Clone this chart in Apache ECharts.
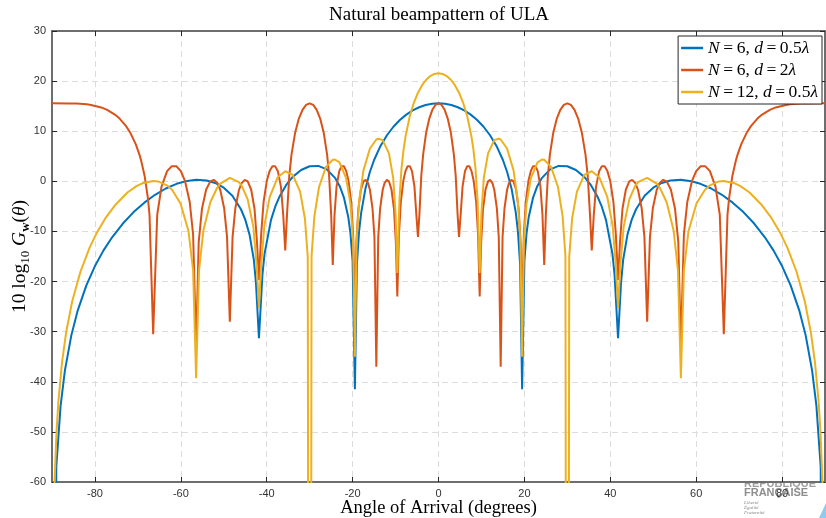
<!DOCTYPE html>
<html>
<head>
<meta charset="utf-8">
<script src="https://cdn.jsdelivr.net/npm/echarts@6/dist/echarts.min.js"></script>
<style>
html,body{margin:0;padding:0;background:#fff;}
#chart{width:826px;height:518px;}
</style>
</head>
<body>
<div id="chart"></div>
<script>
// ---- data (angle in degrees, gain in dB) ----
const titleText = 'Natural beampattern of ULA';
const xLabelText = 'Angle of Arrival (degrees)';
const xTicks = [-80, -60, -40, -20, 0, 20, 40, 60, 80];
const yMin = -60, yMax = 30, yStep = 10;
const seriesLabels = [
  '{i|N}{r|\u2009=\u20096, }{i|d}{r|\u2009=\u20090.5}{i|λ}',
  '{i|N}{r|\u2009=\u20096, }{i|d}{r|\u2009=\u20092}{i|λ}',
  '{i|N}{r|\u2009=\u200912, }{i|d}{r|\u2009=\u20090.5}{i|λ}'
];
const seriesColors = ['#0072BD', '#D95319', '#EDB120'];

const gainN6d05 = [
  [-90,-300],[-89,-57.0],[-88,-44.81],[-87,-37.78],[-85.5,-30.74],[-84,-25.74],[-82,-20.76],[-80,-16.91],
  [-78,-13.78],[-76,-11.17],[-73.5,-8.42],[-71,-6.14],[-68.5,-4.25],[-66,-2.68],[-63.5,-1.43],[-61,-0.50],
  [-58.5,0.09],[-56.44,0.30],[-54,0.17],[-52,-0.33],[-50,-1.28],[-48,-2.88],[-46,-5.57],[-45,-7.64],
  [-44,-10.63],[-43,-15.69],[-42.5,-20.34],[-41.81,-31.3],[-41,-18.68],[-40.5,-14.45],[-39,-7.69],
  [-38,-5.01],[-37,-3.01],[-35.5,-0.76],[-34,0.84],[-32,2.27],[-30,3.01],[-28,3.08],[-26,2.38],[-24,0.58],
  [-23,-0.97],[-22,-3.31],[-21,-7.17],[-20.5,-10.38],[-20,-15.92],[-19.47,-41.5],[-19,-16.52],
  [-18.5,-10.04],[-18,-6.25],[-17,-1.42],[-16,1.82],[-15,4.26],[-13.5,7.06],[-12,9.20],[-10.5,10.89],
  [-9,12.24],[-7.5,13.31],[-6,14.15],[-4.5,14.78],[-3,15.22],[-1.5,15.48],
  [0,15.56],
  [1.5,15.48],[3,15.22],[4.5,14.78],[6,14.15],[7.5,13.31],[9,12.24],[10.5,10.89],[12,9.20],[13.5,7.06],
  [15,4.26],[16,1.82],[17,-1.42],[18,-6.25],[18.5,-10.04],[19,-16.52],[19.47,-41.5],[20,-15.92],
  [20.5,-10.38],[21,-7.17],[22,-3.31],[23,-0.97],[24,0.58],[26,2.38],[28,3.08],[30,3.01],[32,2.27],
  [34,0.84],[35.5,-0.76],[37,-3.01],[38,-5.01],[39,-7.69],[40.5,-14.45],[41,-18.68],[41.81,-31.3],
  [42.5,-20.34],[43,-15.69],[44,-10.63],[45,-7.64],[46,-5.57],[48,-2.88],[50,-1.28],[52,-0.33],[54,0.17],
  [56.44,0.30],[58.5,0.09],[61,-0.50],[63.5,-1.43],[66,-2.68],[68.5,-4.25],[71,-6.14],[73.5,-8.42],
  [76,-11.17],[78,-13.78],[80,-16.91],[82,-20.76],[84,-25.74],[85.5,-30.74],[87,-37.78],[88,-44.81],
  [89,-57.0],[90,-300]
];

const gainN6d2 = [
  [-90,15.56],[-85.95,15.55],[-84.27,15.51],[-81.89,15.36],[-80.93,15.25],[-78.52,14.75],[-77.16,14.27],
  [-75.35,13.33],[-74.26,12.53],[-72.75,11.02],[-71.81,9.76],[-70.48,7.38],[-69.64,5.33],[-69.23,4.11],
  [-68.43,1.07],[-67.67,-3.34],[-67.29,-6.70],[-66.44,-30.5],[-65.50,-6.67],[-64.50,-1.06],[-63.20,2.03],
  [-62.10,3.03],[-61.04,3.01],[-60.00,2.04],[-59.04,0.11],[-57.93,-4.12],[-57.14,-10.62],[-56.44,-33],
  [-55.84,-12.15],[-55.08,-5.48],[-54.10,-1.63],[-53.13,0.00],[-52.34,0.30],[-51.49,-0.35],[-50.81,-1.73],
  [-49.91,-5.38],[-49.24,-11.08],[-48.59,-28],[-47.95,-11.08],[-47.31,-5.38],[-46.47,-1.73],[-45.85,-0.35],
  [-45.10,0.30],[-44.43,0.00],[-43.63,-1.63],[-42.84,-5.48],[-42.26,-12.15],[-41.81,-19.7],[-41.30,-10.62],
  [-40.73,-4.12],[-39.98,0.11],[-39.33,2.04],[-38.68,3.01],[-38.04,3.03],[-37.41,2.03],[-36.69,-1.06],
  [-36.16,-6.67],[-35.69,-13.8],[-35.28,-6.70],[-34.75,1.07],[-34.23,5.33],[-33.37,9.76],[-32.52,12.53],
  [-31.67,14.27],[-30.83,15.25],[-30,15.56],[-29.18,15.25],[-28.36,14.27],[-27.55,12.53],[-26.74,9.76],
  [-25.94,5.33],[-25.47,1.07],[-24.99,-6.70],[-24.62,-16.7],[-24.21,-6.67],[-23.74,-1.06],[-23.11,2.03],
  [-22.57,3.03],[-22.02,3.01],[-21.49,2.04],[-20.95,0.11],[-20.33,-4.12],[-19.88,-10.62],[-19.47,-25],
  [-19.12,-12.15],[-18.66,-5.48],[-18.06,-1.63],[-17.46,0.00],[-16.96,0.30],[-16.41,-0.35],[-15.96,-1.73],
  [-15.37,-5.38],[-14.92,-11.08],[-14.48,-37],[-14.03,-11.08],[-13.59,-5.38],[-13.00,-1.73],[-12.56,-0.35],
  [-12.02,0.30],[-11.54,0.00],[-10.95,-1.63],[-10.37,-5.48],[-9.93,-12.15],[-9.59,-23],[-9.21,-10.62],
  [-8.77,-4.12],[-8.19,0.11],[-7.69,2.04],[-7.18,3.01],[-6.68,3.03],[-6.17,2.03],[-5.60,-1.06],
  [-5.16,-6.67],[-4.78,-11.1],[-4.45,-6.70],[-4.01,1.07],[-3.58,5.33],[-2.87,9.76],[-2.15,12.53],
  [-1.43,14.27],[-0.72,15.25],
  [0,15.56],
  [0.72,15.25],[1.43,14.27],[2.15,12.53],[2.87,9.76],[3.58,5.33],[4.01,1.07],[4.45,-6.70],[4.78,-11.1],
  [5.16,-6.67],[5.60,-1.06],[6.17,2.03],[6.68,3.03],[7.18,3.01],[7.69,2.04],[8.19,0.11],[8.77,-4.12],
  [9.21,-10.62],[9.59,-23],[9.93,-12.15],[10.37,-5.48],[10.95,-1.63],[11.54,0.00],[12.02,0.30],
  [12.56,-0.35],[13.00,-1.73],[13.59,-5.38],[14.03,-11.08],[14.48,-37],[14.92,-11.08],[15.37,-5.38],
  [15.96,-1.73],[16.41,-0.35],[16.96,0.30],[17.46,0.00],[18.06,-1.63],[18.66,-5.48],[19.12,-12.15],
  [19.47,-25],[19.88,-10.62],[20.33,-4.12],[20.95,0.11],[21.49,2.04],[22.02,3.01],[22.57,3.03],
  [23.11,2.03],[23.74,-1.06],[24.21,-6.67],[24.62,-16.7],[24.99,-6.70],[25.47,1.07],[25.94,5.33],
  [26.74,9.76],[27.55,12.53],[28.36,14.27],[29.18,15.25],[30,15.56],[30.83,15.25],[31.67,14.27],
  [32.52,12.53],[33.37,9.76],[34.23,5.33],[34.75,1.07],[35.28,-6.70],[35.69,-13.8],[36.16,-6.67],
  [36.69,-1.06],[37.41,2.03],[38.04,3.03],[38.68,3.01],[39.33,2.04],[39.98,0.11],[40.73,-4.12],
  [41.30,-10.62],[41.81,-19.7],[42.26,-12.15],[42.84,-5.48],[43.63,-1.63],[44.43,0.00],[45.10,0.30],
  [45.85,-0.35],[46.47,-1.73],[47.31,-5.38],[47.95,-11.08],[48.59,-28],[49.24,-11.08],[49.91,-5.38],
  [50.81,-1.73],[51.49,-0.35],[52.34,0.30],[53.13,0.00],[54.10,-1.63],[55.08,-5.48],[55.84,-12.15],
  [56.44,-33],[57.14,-10.62],[57.93,-4.12],[59.04,0.11],[60.00,2.04],[61.04,3.01],[62.10,3.03],
  [63.20,2.03],[64.50,-1.06],[65.50,-6.67],[66.44,-30.5],[67.29,-6.70],[67.67,-3.34],[68.43,1.07],
  [69.23,4.11],[69.64,5.33],[70.48,7.38],[71.81,9.76],[72.75,11.02],[74.26,12.53],[75.35,13.33],
  [77.16,14.27],[78.52,14.75],[80.93,15.25],[81.89,15.36],[84.27,15.51],[85.95,15.55],[90,15.56]
];

const gainN12d05 = [
  [-90,-300],[-89.43,-60.5],[-88.95,-50.06],[-88.52,-44.04],[-87.66,-36.08],[-86.69,-30.06],[-85.32,-24.04],
  [-83.38,-18.04],[-81.24,-13.23],[-79.52,-10.19],[-77.60,-7.41],[-75.16,-4.61],[-72.43,-2.24],
  [-70.33,-0.96],[-68.96,-0.39],[-66.44,0.08],[-65.28,-0.02],[-63.08,-0.87],[-62.05,-1.69],[-60.07,-4.43],
  [-58.21,-9.96],[-57.14,-17.76],[-56.44,-39.3],[-55.76,-17.71],[-54.75,-9.83],[-53.13,-4.18],
  [-51.57,-1.33],[-50.81,-0.45],[-48.59,0.69],[-46.47,-0.16],[-45.78,-0.95],[-44.43,-3.62],[-43.11,-9.08],
  [-42.33,-16.84],[-41.81,-25.3],[-41.30,-16.74],[-40.54,-8.82],[-39.30,-3.09],[-37.47,0.76],[-35.69,2.01],
  [-33.94,1.28],[-32.23,-2.04],[-31.11,-7.41],[-30.44,-15.12],[-30,-300],[-29.56,-14.94],[-28.90,-6.96],
  [-27.82,-1.13],[-26.21,2.88],[-24.62,4.31],[-24.10,4.35],[-23.06,3.77],[-21.51,0.66],[-20.49,-4.56],
  [-19.88,-12.17],[-19.47,-35],[-19.07,-11.86],[-18.46,-3.77],[-17.46,2.24],[-15.96,6.56],[-14.48,8.34],
  [-13.99,8.51],[-13.00,8.22],[-11.54,5.58],[-10.56,0.73],[-9.98,-6.63],[-9.59,-18.3],[-9.11,-3.94],
  [-8.63,2.44],[-8.14,6.26],[-7.66,9.03],[-6.70,12.95],[-5.74,15.68],[-4.78,17.69],[-3.82,19.18],
  [-2.87,20.27],[-1.91,21.01],[-0.96,21.44],
  [0,21.58],
  [0.96,21.44],[1.91,21.01],[2.87,20.27],[3.82,19.18],[4.78,17.69],[5.74,15.68],[6.70,12.95],[7.66,9.03],
  [8.14,6.26],[8.63,2.44],[9.11,-3.94],[9.59,-18.3],[9.98,-6.63],[10.56,0.73],[11.54,5.58],[13.00,8.22],
  [13.99,8.51],[14.48,8.34],[15.96,6.56],[17.46,2.24],[18.46,-3.77],[19.07,-11.86],[19.47,-35],
  [19.88,-12.17],[20.49,-4.56],[21.51,0.66],[23.06,3.77],[24.10,4.35],[24.62,4.31],[26.21,2.88],
  [27.82,-1.13],[28.90,-6.96],[29.56,-14.94],[30,-300],[30.44,-15.12],[31.11,-7.41],[32.23,-2.04],
  [33.94,1.28],[35.69,2.01],[37.47,0.76],[39.30,-3.09],[40.54,-8.82],[41.30,-16.74],[41.81,-25.3],
  [42.33,-16.84],[43.11,-9.08],[44.43,-3.62],[45.78,-0.95],[46.47,-0.16],[48.59,0.69],[50.81,-0.45],
  [51.57,-1.33],[53.13,-4.18],[54.75,-9.83],[55.76,-17.71],[56.44,-39.3],[57.14,-17.76],[58.21,-9.96],
  [60.07,-4.43],[62.05,-1.69],[63.08,-0.87],[65.28,-0.02],[66.44,0.08],[68.96,-0.39],[70.33,-0.96],
  [72.43,-2.24],[75.16,-4.61],[77.60,-7.41],[79.52,-10.19],[81.24,-13.23],[83.38,-18.04],[85.32,-24.04],
  [86.69,-30.06],[87.66,-36.08],[88.52,-44.04],[88.95,-50.06],[89.43,-60.5],[90,-300]
];
const seriesData = [gainN6d05, gainN6d2, gainN12d05];

// ---- chart ----
const chart = echarts.init(document.getElementById('chart'), null, {renderer: 'canvas'});
const serif = 'Liberation Serif';
const sans = 'Liberation Sans';
const axisLineColor = '#6e6e6e';
const tickColor = '#262626';

const option = {
  animation: false,
  backgroundColor: '#ffffff',
  grid: {left: 52, right: 1, top: 31, bottom: 36, containLabel: false, outerBoundsMode: 'none',
         show: true, backgroundColor: '#ffffff', borderWidth: 0},
  legend: {
    orient: 'vertical',
    right: 4,
    top: 36,
    backgroundColor: '#ffffff',
    borderColor: '#262626',
    borderWidth: 1,
    borderRadius: 0,
    padding: [3, 4, 3, 3],
    itemGap: 4,
    itemWidth: 22,
    itemHeight: 2.5,
    icon: 'rect',
    data: seriesLabels.map((n) => ({name: n, icon: 'rect'})),
    formatter: function (name) { return name; },
    textStyle: {
      fontFamily: serif, fontSize: 17.5, color: '#000', lineHeight: 18,
      rich: {
        i: {fontFamily: serif, fontSize: 17.5, fontStyle: 'italic', color: '#000'},
        r: {fontFamily: serif, fontSize: 17.5, color: '#000'}
      }
    }
  },
  xAxis: [
    {
      type: 'value', min: -90, max: 90, position: 'bottom',
      name: xLabelText, nameLocation: 'middle', nameGap: 17, nameMoveOverlap: false,
      nameTextStyle: {fontFamily: serif, fontSize: 18.5, color: '#000'},
      axisLine: {show: true, onZero: false, lineStyle: {color: axisLineColor, width: 2}},
      axisTick: {show: true, inside: true, length: 5, customValues: xTicks, lineStyle: {color: tickColor, width: 1}},
      axisLabel: {customValues: xTicks, fontFamily: sans, fontSize: 11, color: '#333', margin: 6},
      splitLine: {show: true, lineStyle: {color: '#dcdcdc', type: [6, 4], width: 1}}
    },
    {
      type: 'value', min: -90, max: 90, position: 'top',
      axisLine: {show: true, onZero: false, lineStyle: {color: axisLineColor, width: 2}},
      axisTick: {show: true, inside: true, length: 5, customValues: xTicks, lineStyle: {color: tickColor, width: 1}},
      axisLabel: {show: false},
      splitLine: {show: false}
    }
  ],
  yAxis: [
    {
      type: 'value', min: yMin, max: yMax, interval: yStep, position: 'left',
      name: '{a|10 log}{s|10}{a| }{i|G}{b|w}{a|(}{i|θ}{a|)}',
      nameLocation: 'middle', nameGap: 20, nameRotate: 90, nameMoveOverlap: false,
      nameTextStyle: {
        fontFamily: serif, fontSize: 19.5, color: '#000', lineHeight: 24,
        rich: {
          a: {fontFamily: serif, fontSize: 19.5, color: '#000'},
          i: {fontFamily: serif, fontSize: 19.5, fontStyle: 'italic', color: '#000'},
          s: {fontFamily: serif, fontSize: 13, color: '#000', verticalAlign: 'bottom'},
          b: {fontFamily: serif, fontSize: 13, fontWeight: 'bold', color: '#000', verticalAlign: 'bottom'}
        }
      },
      axisLine: {show: true, onZero: false, lineStyle: {color: axisLineColor, width: 2}},
      axisTick: {show: true, inside: true, length: 5, lineStyle: {color: tickColor, width: 1}},
      axisLabel: {fontFamily: sans, fontSize: 11, color: '#333', margin: 6},
      splitLine: {show: true, lineStyle: {color: '#dcdcdc', type: [6, 4], width: 1}}
    },
    {
      type: 'value', min: yMin, max: yMax, interval: yStep, position: 'right',
      axisLine: {show: true, onZero: false, lineStyle: {color: axisLineColor, width: 2}},
      axisTick: {show: true, inside: true, length: 5, lineStyle: {color: tickColor, width: 1}},
      axisLabel: {show: false},
      splitLine: {show: false}
    }
  ],
  graphic: [
    {type: 'text', x: 439, y: 15, z: 10,
     style: {text: titleText, fontFamily: serif, fontSize: 19, fill: '#000', align: 'center', verticalAlign: 'middle'}},
    {type: 'text', x: 744, y: 484, z: -6, silent: true,
     style: {text: 'RÉPUBLIQUE', fontFamily: sans, fontSize: 11, fontWeight: 'bold', fill: '#a0a0a0', align: 'left', verticalAlign: 'middle'}},
    {type: 'rect', z: -5, silent: true,
     shape: {x: 740, y: 470, width: 76, height: 12}, style: {fill: '#ffffff'}},
    {type: 'text', x: 744, y: 493, z: -6, silent: true,
     style: {text: 'FRANÇAISE', fontFamily: sans, fontSize: 11, fontWeight: 'bold', fill: '#8e8e8e', align: 'left', verticalAlign: 'middle'}},
    {type: 'text', x: 744, y: 503, z: -6, silent: true,
     style: {text: 'Liberté', fontFamily: serif, fontSize: 5, fontStyle: 'italic', fill: '#888', align: 'left', verticalAlign: 'middle'}},
    {type: 'text', x: 744, y: 508, z: -6, silent: true,
     style: {text: 'Égalité', fontFamily: serif, fontSize: 5, fontStyle: 'italic', fill: '#888', align: 'left', verticalAlign: 'middle'}},
    {type: 'text', x: 744, y: 513, z: -6, silent: true,
     style: {text: 'Fraternité', fontFamily: serif, fontSize: 5, fontStyle: 'italic', fill: '#888', align: 'left', verticalAlign: 'middle'}},
    {type: 'polygon', z: -6, silent: true,
     shape: {points: [[819, 518], [826, 503], [826, 518]]}, style: {fill: '#8fcbee'}}
  ],
  series: seriesData.map((d, i) => ({
    name: seriesLabels[i],
    type: 'line',
    data: d,
    xAxisIndex: 0,
    yAxisIndex: 0,
    showSymbol: false,
    symbol: 'none',
    clip: true,
    smooth: false,
    color: seriesColors[i],
    lineStyle: {color: seriesColors[i], width: 2},
    z: 2 + i
  }))
};
chart.setOption(option);
</script>
</body>
</html>
